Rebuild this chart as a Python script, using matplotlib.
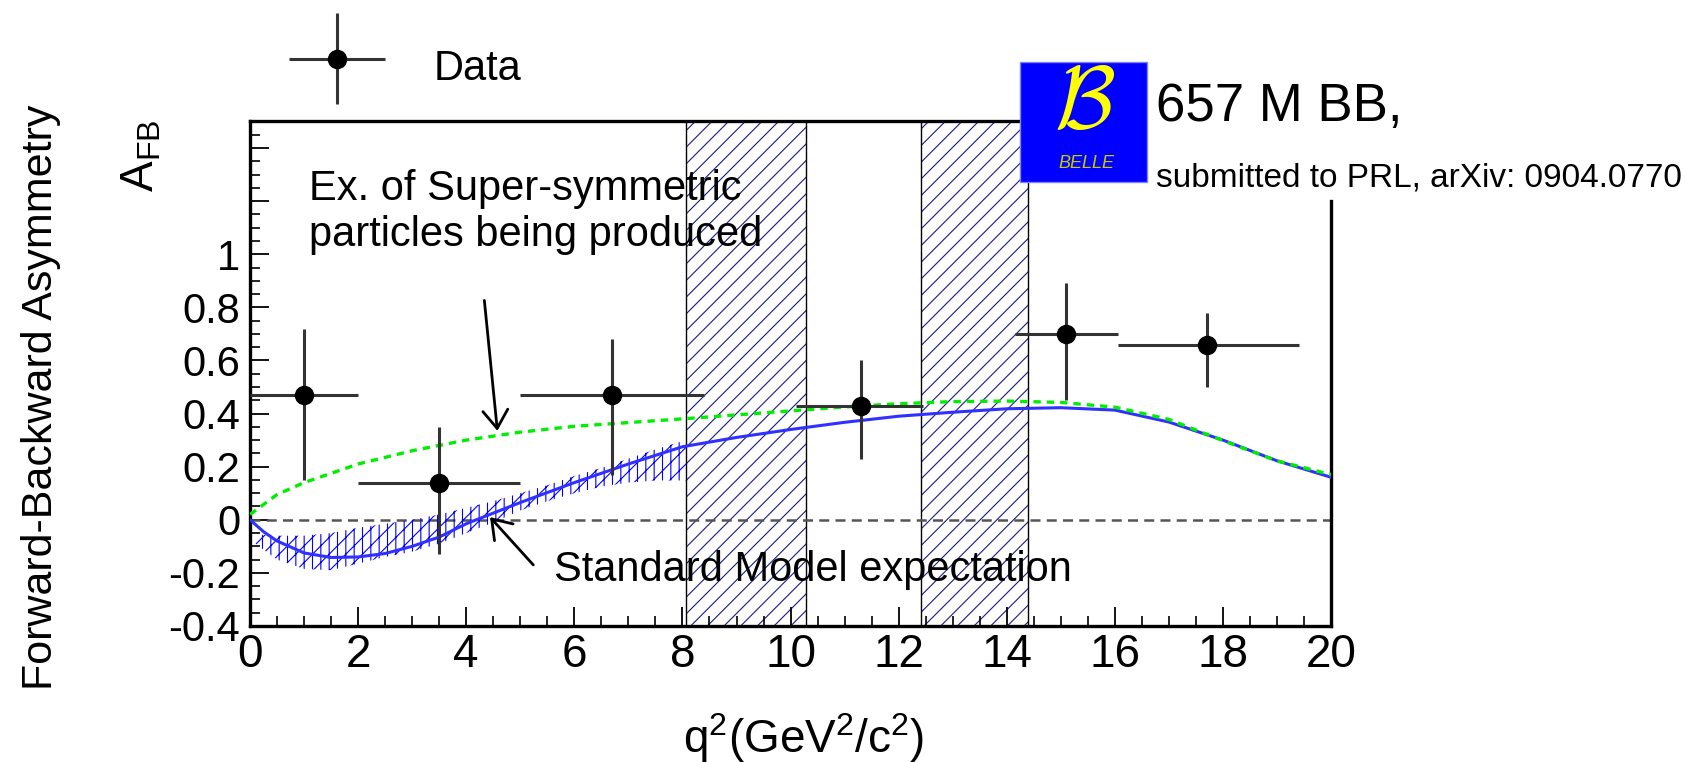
import numpy as np
import matplotlib
matplotlib.use('Agg')
import matplotlib.pyplot as plt
from matplotlib import font_manager
from matplotlib.patches import Rectangle
from matplotlib.container import ErrorbarContainer
from matplotlib.legend_handler import HandlerErrorbar
from matplotlib.ticker import FixedLocator, MultipleLocator, FuncFormatter

# Belle data points: A_FB in q^2 bins
q2 = np.array([1.0, 3.5, 6.7, 11.3, 15.1, 17.7])
afb = np.array([0.47, 0.14, 0.47, 0.43, 0.70, 0.66])
bin_lo = np.array([0.0, 2.0, 5.0, 10.1, 14.15, 16.05])
bin_hi = np.array([2.0, 5.0, 8.4, 12.45, 16.05, 19.4])
err_up = np.array([0.25, 0.21, 0.21, 0.17, 0.19, 0.12])
err_dn = np.array([0.32, 0.27, 0.30, 0.20, 0.25, 0.16])

# Standard Model curve
sm_q = [0, 0.25, 0.5, 1, 1.5, 2, 2.5, 3, 3.5, 4, 4.5, 5, 6, 7, 8, 9, 10,
        11, 12, 13, 14, 15, 16, 17, 18, 19, 20]
sm_afb = [0, -0.045, -0.08, -0.125, -0.142, -0.14, -0.127, -0.1, -0.065,
          -0.015, 0.025, 0.065, 0.14, 0.21, 0.275, 0.31, 0.34, 0.367, 0.39,
          0.405, 0.418, 0.422, 0.413, 0.368, 0.30, 0.222, 0.16]

# SM uncertainty band (low q^2 only)
band_q = [0.1, 0.5, 1, 1.5, 2, 2.5, 3, 3.5, 4, 4.5, 5, 5.5, 6, 6.5, 7, 7.5, 8.07]
band_hi = [-0.055, -0.06, -0.06, -0.05, -0.03, -0.015, 0.0, 0.02, 0.045,
           0.07, 0.10, 0.13, 0.165, 0.195, 0.23, 0.265, 0.30]
band_lo = [-0.09, -0.15, -0.185, -0.19, -0.165, -0.14, -0.12, -0.09, -0.05,
           -0.01, 0.035, 0.07, 0.10, 0.125, 0.14, 0.148, 0.148]

# example of new physics (flipped C7)
susy_q = [0, 0.5, 1, 2, 3, 4, 5, 6, 7, 8, 9, 10, 11, 12, 13, 14, 15, 16,
          17, 18, 19, 20]
susy_afb = [0.02, 0.095, 0.14, 0.21, 0.26, 0.30, 0.33, 0.352, 0.366, 0.38,
            0.395, 0.41, 0.425, 0.437, 0.445, 0.447, 0.442, 0.424, 0.378,
            0.298, 0.222, 0.17]

# charmonium veto regions
veto_lo = [8.07, 12.41]
veto_hi = [10.28, 14.40]

# fonts: narrow face if there is one, otherwise plain Liberation Sans
names = {f.name for f in font_manager.fontManager.ttflist}
if 'Liberation Sans Narrow' in names:
    narrow = 'Liberation Sans Narrow'
    xtick_size, big_size, small_size = 36, 44, 29
else:
    narrow = 'Liberation Sans'
    xtick_size, big_size, small_size = 33, 38, 24

plt.rcParams['font.family'] = ['Liberation Sans', 'DejaVu Sans']
plt.rcParams['mathtext.fontset'] = 'custom'
plt.rcParams['mathtext.rm'] = 'Liberation Sans'
plt.rcParams['mathtext.default'] = 'regular'
plt.rcParams['hatch.linewidth'] = 0.8

fig = plt.figure(figsize=(16.86, 7.62), dpi=100)
ax = fig.add_axes([0.1483, 0.1785, 0.6412, 0.6621])

# vetoes
for lo, hi in zip(veto_lo, veto_hi):
    ax.axvspan(lo, hi, facecolor='none', edgecolor='#1a1a8c', hatch='//',
               lw=0, zorder=1)
    ax.axvspan(lo, hi, fill=False, edgecolor='black', lw=1.0, zorder=1)

ax.axhline(0, color='#555555', lw=1.8, ls=(0, (4, 2.5)), zorder=2)

ax.fill_between(band_q, band_lo, band_hi, facecolor='none', edgecolor='#0000ff',
                hatch='||//', linewidth=0, zorder=3)
ax.plot(sm_q, sm_afb, color='#3030ff', lw=2.2, zorder=4)
ax.plot(susy_q, susy_afb, color='#00ee00', lw=2.4, ls=(0, (2.2, 1.8)), zorder=4)

eb = ax.errorbar(q2, afb, xerr=[q2 - bin_lo, bin_hi - q2], yerr=[err_dn, err_up],
                 fmt='o', color='black', ms=13, ecolor='#333333',
                 elinewidth=2.2, capsize=0, zorder=5)

ax.set_xlim(0, 20)
ax.set_ylim(-0.4, 1.5)

# axes style (ROOT-like)
for s in ax.spines.values():
    s.set_linewidth(2.4)
ax.spines['right'].set_bounds(-0.4, 1.2)
ax.spines['top'].set_bounds(0, veto_hi[1])

ax.xaxis.set_major_locator(MultipleLocator(2))
ax.xaxis.set_minor_locator(MultipleLocator(0.5))
ax.yaxis.set_major_locator(FixedLocator(np.arange(-0.4, 1.41, 0.2)))
ax.yaxis.set_minor_locator(MultipleLocator(0.05))
ax.yaxis.set_major_formatter(
    FuncFormatter(lambda v, p: '' if v > 1.05 else f'{round(v, 2) + 0:g}'))
ax.tick_params(which='both', direction='in', top=False, right=False)
ax.tick_params(which='major', length=14, width=1.3)
ax.tick_params(which='minor', length=7, width=1.2)
ax.tick_params(axis='y', labelsize=30, pad=7)
ax.tick_params(axis='x', labelsize=xtick_size, labelfontfamily=narrow, pad=5)

# annotations
ax.text(1.09, 1.03, 'Ex. of Super-symmetric\nparticles being produced',
        fontsize=30, va='baseline', ha='left', linespacing=1.2, zorder=7)
ax.annotate('', xy=(4.576, 0.335), xytext=(4.335, 0.826),
            arrowprops=dict(arrowstyle='->,head_length=0.65,head_width=0.45',
                            lw=2, color='black', mutation_scale=20,
                            shrinkA=0, shrinkB=0), zorder=7)
ax.text(5.62, -0.23, 'Standard Model expectation', fontsize=30,
        va='baseline', ha='left', zorder=7)
ax.annotate('', xy=(4.44, 0.01), xytext=(5.24, -0.17),
            arrowprops=dict(arrowstyle='->,head_length=0.65,head_width=0.45',
                            lw=2, color='black', mutation_scale=20,
                            shrinkA=0, shrinkB=0), zorder=7)

# axis titles
fig.text(0.4769, 0.0118, r'q$^{2}$(GeV$^{2}$/c$^{2}$)', fontsize=33,
         ha='center', va='baseline')
fig.text(0.0243, 0.479, 'Forward-Backward Asymmetry', fontsize=31,
         rotation=90, ha='center', va='center')
fig.text(0.0842, 0.795, r'A$_{FB}$', fontsize=33, rotation=90,
         ha='center', va='center')

# legend
ax.legend([eb], ['Data'], loc='center left', bbox_to_anchor=(0.170, 0.9127),
          bbox_transform=fig.transFigure, frameon=False, fontsize=30,
          handlelength=2.4, handleheight=1.8, handletextpad=1.14,
          borderpad=0, borderaxespad=0,
          handler_map={ErrorbarContainer: HandlerErrorbar(xerr_size=1.15,
                                                          yerr_size=1.1,
                                                          numpoints=1)})

# Belle logo and luminosity
fig.patches.append(Rectangle((0.605, 0.761), 0.0753, 0.1575,
                             transform=fig.transFigure, facecolor='#0000ff',
                             edgecolor='#8080ff', lw=1, zorder=3))
fig.text(0.643, 0.862, r'$\mathcal{B}$', math_fontfamily='cm', fontsize=64,
         color='#ffff00', ha='center', va='center', zorder=4)
fig.text(0.6445, 0.785, 'BELLE', fontsize=13, style='italic',
         family=narrow, color='#c8c800', ha='center', va='center', zorder=4)
fig.text(0.6856, 0.8412, '657 M BB,', fontsize=big_size, family=narrow,
         ha='left', va='baseline')
fig.text(0.6856, 0.7546, 'submitted to PRL, arXiv: 0904.0770',
         fontsize=small_size, family=narrow, ha='left', va='baseline')

fig.savefig('out.png', dpi=100)
